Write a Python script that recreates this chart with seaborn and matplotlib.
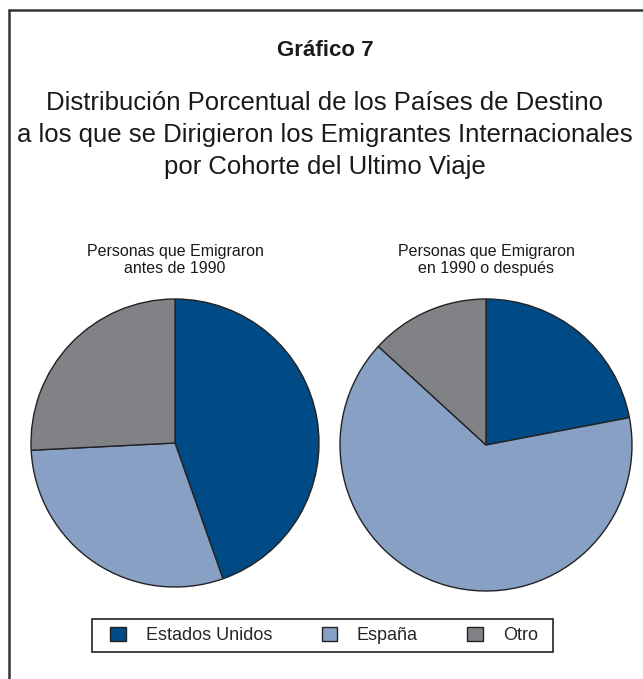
import matplotlib
matplotlib.use("Agg")
import matplotlib.pyplot as plt
import seaborn as sns
from matplotlib.patches import Patch, Rectangle
from matplotlib.lines import Line2D

# Datos (porcentajes)
destinos = ['Estados Unidos', 'España', 'Otro']
antes_1990 = [44.6, 29.6, 25.8]
despues_1990 = [22.0, 64.8, 13.2]
subtitulos = ['Personas que Emigraron\nantes de 1990', 'Personas que Emigraron\nen 1990 o después']
colores = ['#004a85', '#87a0c4', '#808285']

sns.set_theme(style='white')
plt.rcParams['font.family'] = ['Liberation Sans', 'DejaVu Sans']

W, H = 643, 679
fig = plt.figure(figsize=(W / 100, H / 100), dpi=100)

# Marco (solo borde superior e izquierdo visibles)
fig.add_artist(Line2D([9 / W, 9 / W], [0, 1 - 10 / H], transform=fig.transFigure, color='#333333', lw=1.8))
fig.add_artist(Line2D([9 / W, 1], [1 - 10 / H, 1 - 10 / H], transform=fig.transFigure, color='#333333', lw=1.8))

# Títulos
fig.text(325 / W, 1 - 50 / H, 'Gráfico 7', ha='center', va='center', fontsize=16, fontweight='bold', color='#1a1a1a')
titulo = ('Distribución Porcentual de los Países de Destino\n'
          'a los que se Dirigieron los Emigrantes Internacionales\n'
          'por Cohorte del Ultimo Viaje')
fig.text(325 / W, 1 - 135 / H, titulo, ha='center', va='center', fontsize=18.5, color='#1a1a1a', linespacing=1.42)

# Pies
centros = [(175, 443, 144), (486, 445, 146)]
datos = [antes_1990, despues_1990]
for (cx, cy, r), valores, sub in zip(centros, datos, subtitulos):
    ax = fig.add_axes([(cx - r) / W, (H - cy - r) / H, 2 * r / W, 2 * r / H])
    ax.pie(valores, colors=colores, startangle=90, counterclock=False,
           wedgeprops={'edgecolor': '#222222', 'linewidth': 1.0})
    ax.set_xlim(-1.0, 1.0)
    ax.set_ylim(-1.0, 1.0)
    ax.set_aspect('equal')
    ax.axis('off')
    fig.text(cx / W, 1 - 260 / H, sub, ha='center', va='center', fontsize=11.5, color='#1a1a1a', linespacing=1.15)

# Leyenda (marco dibujado aparte)
fig.add_artist(Rectangle((92 / W, 1 - 652 / H), (553 - 92) / W, 33 / H, transform=fig.transFigure,
                         facecolor='none', edgecolor='#222222', linewidth=1.2))
handles = [Patch(facecolor=c, edgecolor='#222222', linewidth=1) for c in colores]
fig.legend(handles, destinos, loc='center', bbox_to_anchor=(324 / W, 1 - 635.5 / H),
           ncol=3, frameon=False, fontsize=13,
           handlelength=0.85, handleheight=0.85, handletextpad=1.1, columnspacing=2.75,
           borderpad=0.4)

fig.savefig('out.png', dpi=100)
